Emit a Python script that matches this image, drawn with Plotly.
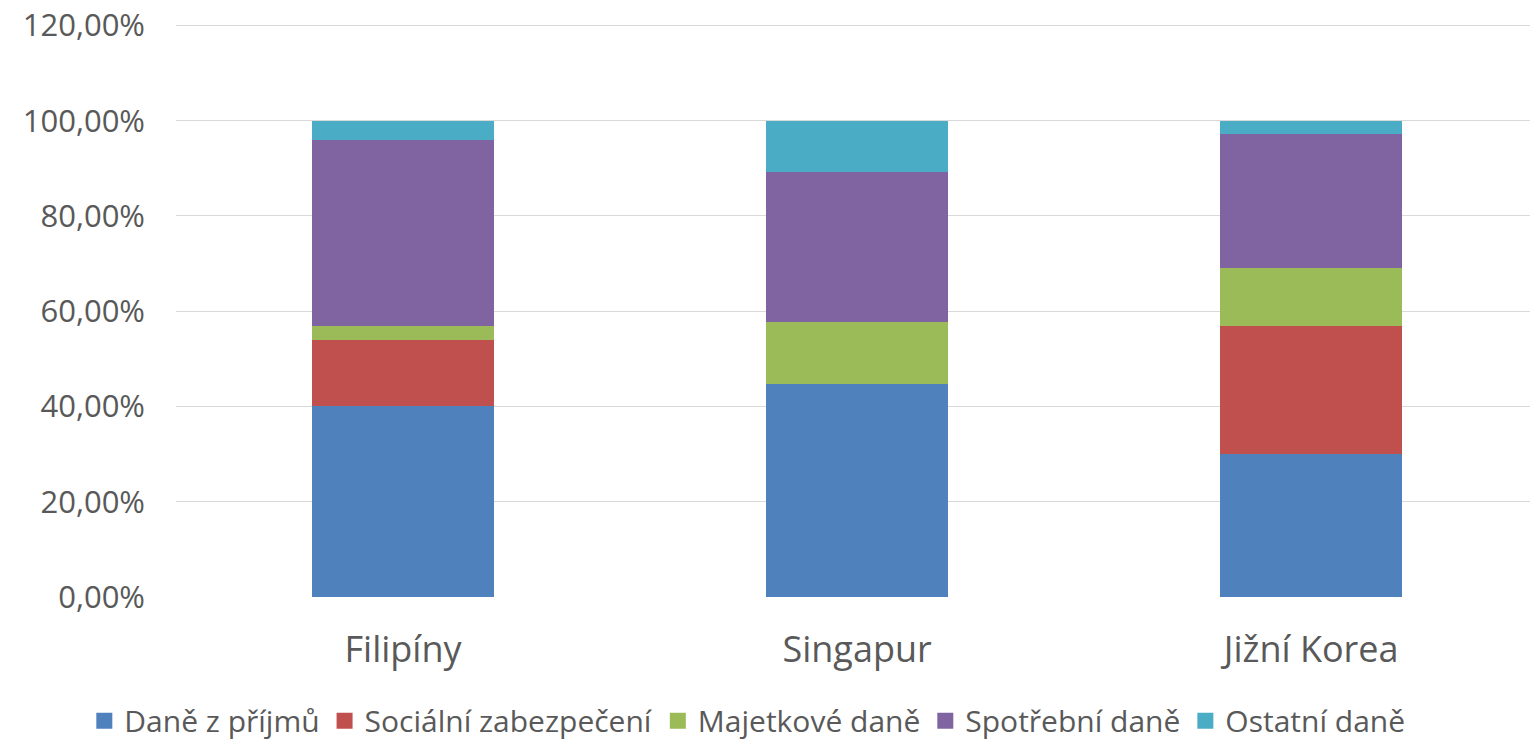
import plotly.graph_objects as go

categories = ["Filipíny", "Singapur", "Jižní Korea"]
series_names = ["Daně z příjmů", "Sociální zabezpečení", "Majetkové daně", "Spotřební daně", "Ostatní daně"]
dane_z_prijmu = [0.401, 0.448, 0.301]
socialni = [0.139, 0.0, 0.268]
majetkove = [0.029, 0.130, 0.122]
spotrebni = [0.390, 0.314, 0.282]
ostatni = [0.041, 0.108, 0.027]
tick_vals = [0, 0.2, 0.4, 0.6, 0.8, 1.0, 1.2]

colors = ["#4F81BD", "#C0504D", "#9BBB59", "#8064A2", "#4BACC6"]
values = [dane_z_prijmu, socialni, majetkove, spotrebni, ostatni]

fig = go.Figure()
for name, vals, col in zip(series_names, values, colors):
    fig.add_trace(go.Bar(x=categories, y=vals, name=name, legendgroup=name, showlegend=False,
                         marker=dict(color=col, line=dict(width=0))))
# legend entries with larger square symbols
for name, col in zip(series_names, colors):
    fig.add_trace(go.Scatter(x=[None], y=[None], mode="markers", name=name, legendgroup=name,
                             marker=dict(symbol="square", size=16, color=col), hoverinfo="skip"))

font_family = "Open Sans, Liberation Sans, sans-serif"
fig.update_layout(
    barmode="stack",
    bargap=0.6,
    width=1533, height=743,
    margin=dict(l=176, r=3, t=23, b=146, autoexpand=False),
    plot_bgcolor="white", paper_bgcolor="white",
    separators=", ",
    font=dict(family=font_family, size=31, color="#595959"),
    legend=dict(orientation="h", xref="container", yref="container", x=0.055, xanchor="left",
                y=0.03, yanchor="middle", font=dict(size=30, color="#595959"),
                traceorder="normal", itemsizing="trace", itemwidth=30, tracegroupgap=0),
    showlegend=True,
)
fig.update_yaxes(range=[0, 1.205], tickvals=tick_vals, tickformat=".2%", showgrid=True,
                 gridcolor="#D9D9D9", gridwidth=1, zeroline=False, showline=False,
                 ticks="", ticklabelstandoff=30, tickfont=dict(size=31))
fig.update_xaxes(range=[-0.5, 2.482], showgrid=False, showline=False, ticks="",
                 tickfont=dict(size=36), ticklabelstandoff=28)
fig.write_html("out.html", post_script="document.body.style.margin='0';",
               config={"displayModeBar": False})
